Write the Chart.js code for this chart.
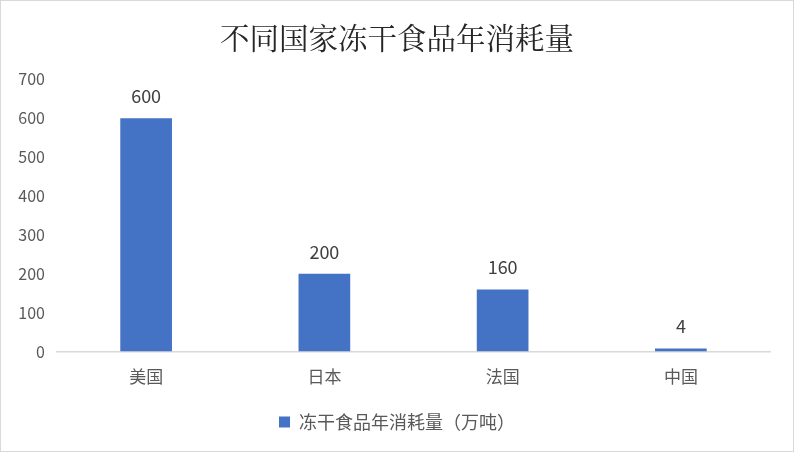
<!DOCTYPE html>
<html><head><meta charset="utf-8">
<script src="https://cdn.jsdelivr.net/npm/chart.js@4.4.1/dist/chart.umd.min.js"></script>
<style>
html,body{margin:0;padding:0;background:#fff;}
#wrap{position:relative;width:792px;height:450px;border:1px solid #d9d9d9;}
</style></head>
<body>
<div id="wrap"><canvas id="c" width="792" height="450"></canvas></div>
<script>
const categories = ['美国','日本','法国','中国'];
const values = [600, 200, 160, 4];
const seriesName = '冻干食品年消耗量（万吨）';
const titleText = '不同国家冻干食品年消耗量';
const yMax = 700, yStep = 100;

const CJK = '"Noto Sans CJK SC","Noto Sans",sans-serif';

const labelPlugin = {
  id: 'valueLabels',
  afterDatasetsDraw(chart) {
    const ctx = chart.ctx;
    const meta = chart.getDatasetMeta(0);
    ctx.save();
    ctx.font = '18px ' + CJK;
    ctx.fillStyle = '#404040';
    ctx.textAlign = 'center';
    ctx.textBaseline = 'middle';
    meta.data.forEach((bar, i) => {
      ctx.fillText(String(values[i]), bar.x, bar.y - 22);
    });
    ctx.restore();
  }
};

new Chart(document.getElementById('c'), {
  type: 'bar',
  data: {
    labels: categories,
    datasets: [{
      label: seriesName,
      data: values,
      backgroundColor: '#4472C4',
      borderWidth: 0,
      barPercentage: 0.58,
      categoryPercentage: 0.5,
      minBarLength: 3
    }]
  },
  options: {
    responsive: false,
    animation: false,
    devicePixelRatio: 1,
    layout: { padding: { left: 0, right: 0, top: 19, bottom: 10 } },
    plugins: {
      title: {
        display: true,
        text: titleText,
        color: '#262626',
        font: { family: '"Noto Serif CJK SC","Noto Sans CJK SC",serif', size: 29.5, weight: 'normal' },
        padding: { top: 0, bottom: 24 }
      },
      legend: {
        display: true,
        position: 'bottom',
        labels: {
          color: '#595959',
          font: { family: CJK, size: 18 },
          boxWidth: 11, boxHeight: 11,
          padding: 11
        }
      },
      tooltip: { enabled: false }
    },
    scales: {
      x: {
        grid: { display: false, drawTicks: false },
        border: { display: true, color: '#d9d9d9', width: 1.5 },
        ticks: { color: '#595959', font: { family: CJK, size: 17 }, padding: 15 }
      },
      y: {
        min: 0, max: yMax,
        afterFit(s) { s.width = 56; },
        grid: { display: false, drawTicks: false },
        border: { display: false },
        ticks: { stepSize: yStep, color: '#595959', font: { family: CJK, size: 16 }, padding: 12 }
      },
      yRight: {
        type: 'linear',
        position: 'right',
        min: 0, max: yMax,
        afterFit(s) { s.width = 23; },
        grid: { display: false, drawTicks: false },
        border: { display: false },
        ticks: { display: false }
      }
    }
  },
  plugins: [labelPlugin]
});
</script>
</body></html>
